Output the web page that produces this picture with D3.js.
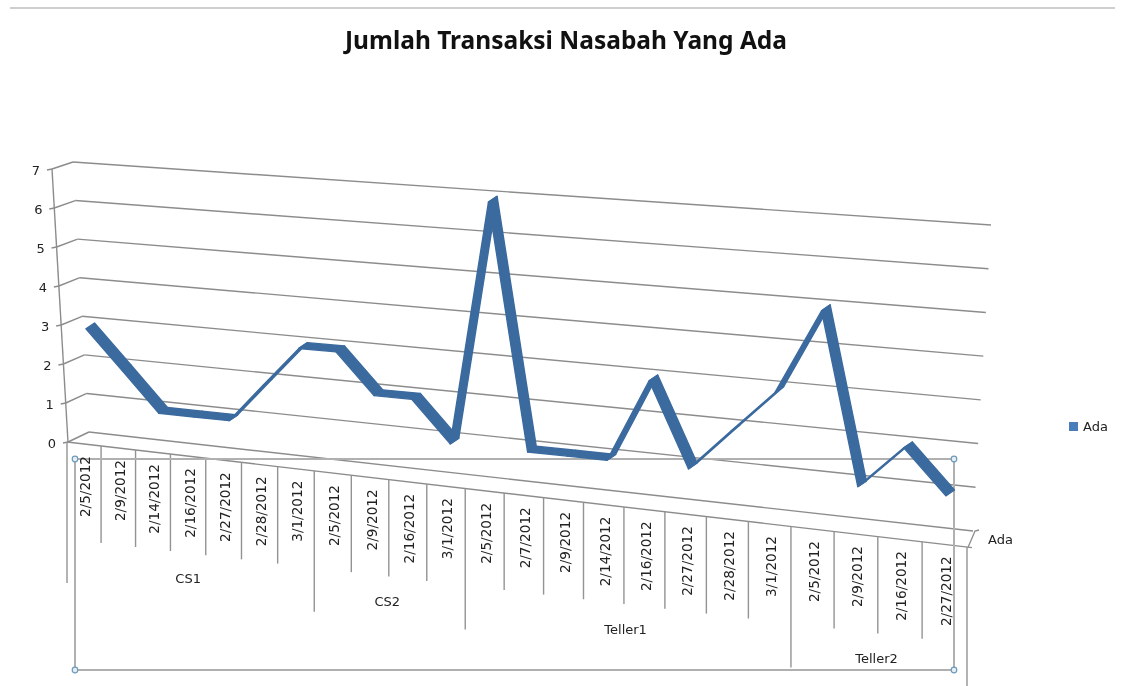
<!DOCTYPE html>
<html><head><meta charset="utf-8">
<script src="https://cdn.jsdelivr.net/npm/d3@7"></script>
<style>html,body{margin:0;padding:0;background:#fff}svg{display:block;filter:blur(0.35px)}</style>
</head><body><svg id="c" width="1127" height="686"></svg>
<script>
const titleText = "Jumlah Transaksi Nasabah Yang Ada";
const seriesName = "Ada";
const yTicks = [0,1,2,3,4,5,6,7];
const groups = ["CS1","CS2","Teller1","Teller2"];
const groupDates = [
  ["2/5/2012","2/9/2012","2/14/2012","2/16/2012","2/27/2012","2/28/2012","3/1/2012"],
  ["2/5/2012","2/9/2012","2/16/2012","3/1/2012"],
  ["2/5/2012","2/7/2012","2/9/2012","2/14/2012","2/16/2012","2/27/2012","2/28/2012","3/1/2012"],
  ["2/5/2012","2/9/2012","2/16/2012","2/27/2012"]
];
const groupValues = [
  [3,2,1,1,1,2,3],
  [3,2,2,1],
  [7,1,1,1,3,1,2,3],
  [5,1,2,1]
];
const dates = groupDates.flat();
const values = groupValues.flat();
const n = dates.length;

const svg = d3.select("#c");
const font = "'DejaVu Sans',sans-serif";
const gridC = "#8c8c8c", tickC = "#939393", frameC = "#b0b0b0";

// perspective along the category axis
const persp = t => t/(t + 1.155*(1-t));
const tScale = d3.scaleLinear().domain([0,n]).range([0,1]);
const along = i => persp(tScale(i));

// projected plane edges
const frontX = d3.scaleLinear().domain([0,1]).range([67,967]);
const frontY = d3.scaleLinear().domain([0,1]).range([442,547]);
const wallLX = d3.scaleLinear().domain([0,7]).range([68,52]);
const wallLY = d3.scaleLinear().domain([0,7]).range([442,169]);
const backLX = d3.scaleLinear().domain([0,7]).range([89,73]);
const backLY = d3.scaleLinear().domain([0,7]).range([432,162]);
const backRX = d3.scaleLinear().domain([0,7]).range([973,991]);
const backRY = d3.scaleLinear().domain([0,7]).range([531,225]);
const mix = (a,b,t) => a+(b-a)*t;
const backPt = (i,v) => { const f=along(i); return [mix(backLX(v),backRX(v),f), mix(backLY(v),backRY(v),f)]; };
const front = i => { const f=along(i); return [frontX(f), frontY(f)]; };
const lineGen = d3.line();
const line = (pts,col,w) => svg.append("path").attr("d",lineGen(pts)).attr("fill","none").attr("stroke",col).attr("stroke-width",w);

// top rule
line([[10,8],[1115,8]],"#a0a0a0",1.1);

// gridlines and side wall
yTicks.forEach(v=>{
  line([backPt(0,v),backPt(n,v)],gridC,1.4);
  line([[wallLX(v),wallLY(v)],[backLX(v),backLY(v)]],gridC,1.4);
  line([[wallLX(v)-5,wallLY(v)+1],[wallLX(v),wallLY(v)]],gridC,1.4);
  svg.append("text").attr("x",wallLX(v)-16).attr("y",wallLY(v)+1)
    .attr("text-anchor","middle").attr("dominant-baseline","central")
    .attr("font-family",font).attr("font-size",13).attr("fill","#222").text(v);
});
line([[wallLX(0),wallLY(0)],[wallLX(7),wallLY(7)]],gridC,1.4);

// floor
line([[67,442],[972,547.6]],gridC,1.4);
line([[968,547.6],[975,531],[979,530]],gridC,1.3);

// category and group ticks
let idx=0;
const groupEdges=[0];
groupDates.forEach(g=>{idx+=g.length;groupEdges.push(idx);});
d3.range(n+1).forEach(i=>{
  const p=front(i), len=groupEdges.includes(i)?141:97;
  line([p,[p[0],p[1]+len]],tickC,1.4);
});

// selection frame
const fx=[75,954], fy=[459,670];
svg.append("rect").attr("x",fx[0]).attr("y",fy[0]).attr("width",fx[1]-fx[0]).attr("height",fy[1]-fy[0])
  .attr("fill","none").attr("stroke",frameC).attr("stroke-width",2);

// series ribbon
const depth=[4.3,-2.9];
const ribbon = values.map((v,i)=>{ const p=backPt(i+0.5,v); return [p[0]+mix(-9,-3,along(i+0.5)),p[1]+8]; });
d3.pairs(ribbon).forEach(([a,b])=>{
  const poly=[[a[0]+depth[0],a[1]+depth[1]],[b[0]+depth[0],b[1]+depth[1]],[b[0]-depth[0],b[1]-depth[1]],[a[0]-depth[0],a[1]-depth[1]]];
  svg.append("path").attr("d",lineGen(poly)+"Z").attr("fill","#3b6a9f").attr("stroke","#3b6a9f")
    .attr("stroke-width",1.4).attr("stroke-linejoin","round");
});

// handles
[[fx[0],fy[0]],[fx[1],fy[0]],[fx[0],fy[1]],[fx[1],fy[1]]].forEach(([x,y])=>{
  svg.append("circle").attr("cx",x).attr("cy",y).attr("r",2.8).attr("fill","#e4eef6").attr("stroke","#6f9bb8").attr("stroke-width",1.2);
});

// date labels
dates.forEach((d,i)=>{
  const p=front(i+0.5), x=p[0]+1.5, y=p[1]+12;
  svg.append("text").attr("transform",`translate(${x},${y}) rotate(-90)`)
    .attr("text-anchor","end").attr("dominant-baseline","central")
    .attr("font-family",font).attr("font-size",13.6).attr("fill","#222").text(d);
});

// group labels
groups.forEach((g,k)=>{
  const a=front(groupEdges[k]), b=front(groupEdges[k+1]);
  const x=(a[0]+b[0])/2-2.5, y=(a[1]+b[1])/2+122;
  svg.append("text").attr("x",x).attr("y",y).attr("text-anchor","middle").attr("dominant-baseline","central")
    .attr("font-family",font).attr("font-size",13).attr("fill","#222").text(g);
});

// depth axis label
svg.append("text").attr("x",988).attr("y",539).attr("dominant-baseline","central")
  .attr("font-family",font).attr("font-size",13).attr("fill","#222").text(seriesName);

// legend
svg.append("rect").attr("x",1069).attr("y",422).attr("width",9).attr("height",9).attr("fill","#4a7ebb");
svg.append("text").attr("x",1083).attr("y",426).attr("dominant-baseline","central")
  .attr("font-family",font).attr("font-size",13).attr("fill","#222").text(seriesName);

// title
svg.append("text").attr("x",566).attr("y",39).attr("text-anchor","middle").attr("dominant-baseline","central")
  .attr("font-family","'Noto Sans',sans-serif").attr("font-weight","bold").attr("font-size",24.5).attr("fill","#111").text(titleText);
</script></body></html>
